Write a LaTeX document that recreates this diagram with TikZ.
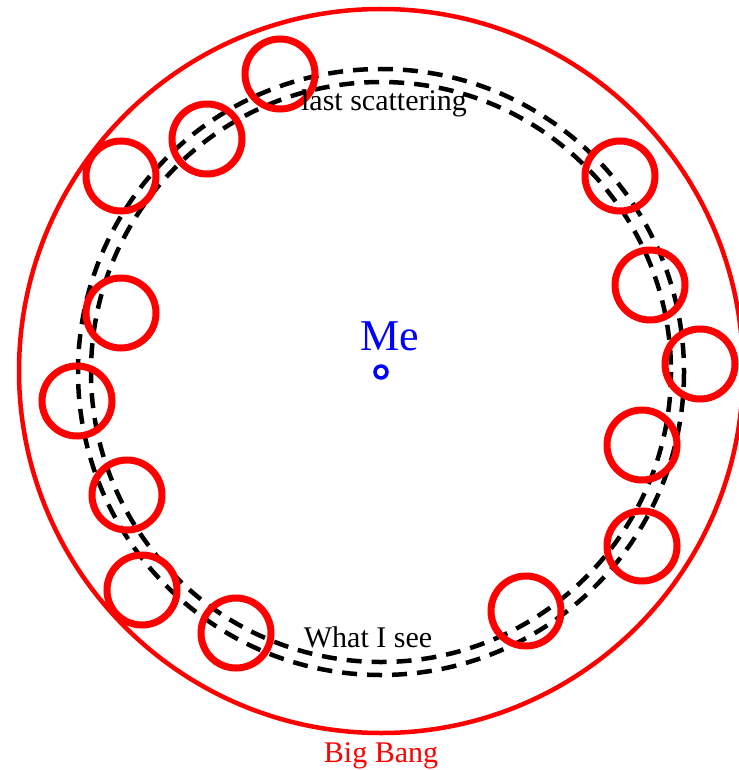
\documentclass[tikz,border=0pt]{standalone}
\usepackage{fontspec}
\setmainfont{Liberation Serif}
\usetikzlibrary{positioning}
\tikzset{
  big bang/.style={draw=red, line width=4.5pt},
  horizon/.style={draw=red, line width=7pt},
  surface/.style={draw=black, line width=4.5pt, dash pattern=on 15pt off 10pt},
  observer/.style={circle, draw=blue, line width=3.5pt, minimum size=12pt, inner sep=0pt},
  label text/.style={font=\fontsize{30}{36}\selectfont, anchor=base},
}

\begin{document}
\begin{tikzpicture}[x=1pt, y=-1pt]
  \useasboundingbox (0,0) rectangle (738,770);

  % Surfaces
  \draw[surface] (381,372) circle (303);
  \draw[surface] (381,372) circle (290);

  % Big Bang
  \draw[big bang] (381,371) circle (362);

  % Horizons
  \foreach \x/\y in {280/74, 207/139, 121/176, 121/313, 77/401, 127/495,
                     142/590, 236/633, 526/611, 642/546, 642/445, 700/364,
                     650/285, 620/176}
    \draw[horizon] (\x,\y) circle (35);

  % Observer
  \node[observer] (me) at (381,372) {};
  \node[text=blue, font=\fontsize{44}{50}\selectfont, anchor=base] (melabel) at (390,350) {Me};

  % Labels
  \node[label text] (last) at (384,111) {last scattering};
  \node[label text] (see) at (368,647) {What I see};
  \node[label text, text=red] (bang) at (381,762) {Big Bang};
\end{tikzpicture}
\end{document}
